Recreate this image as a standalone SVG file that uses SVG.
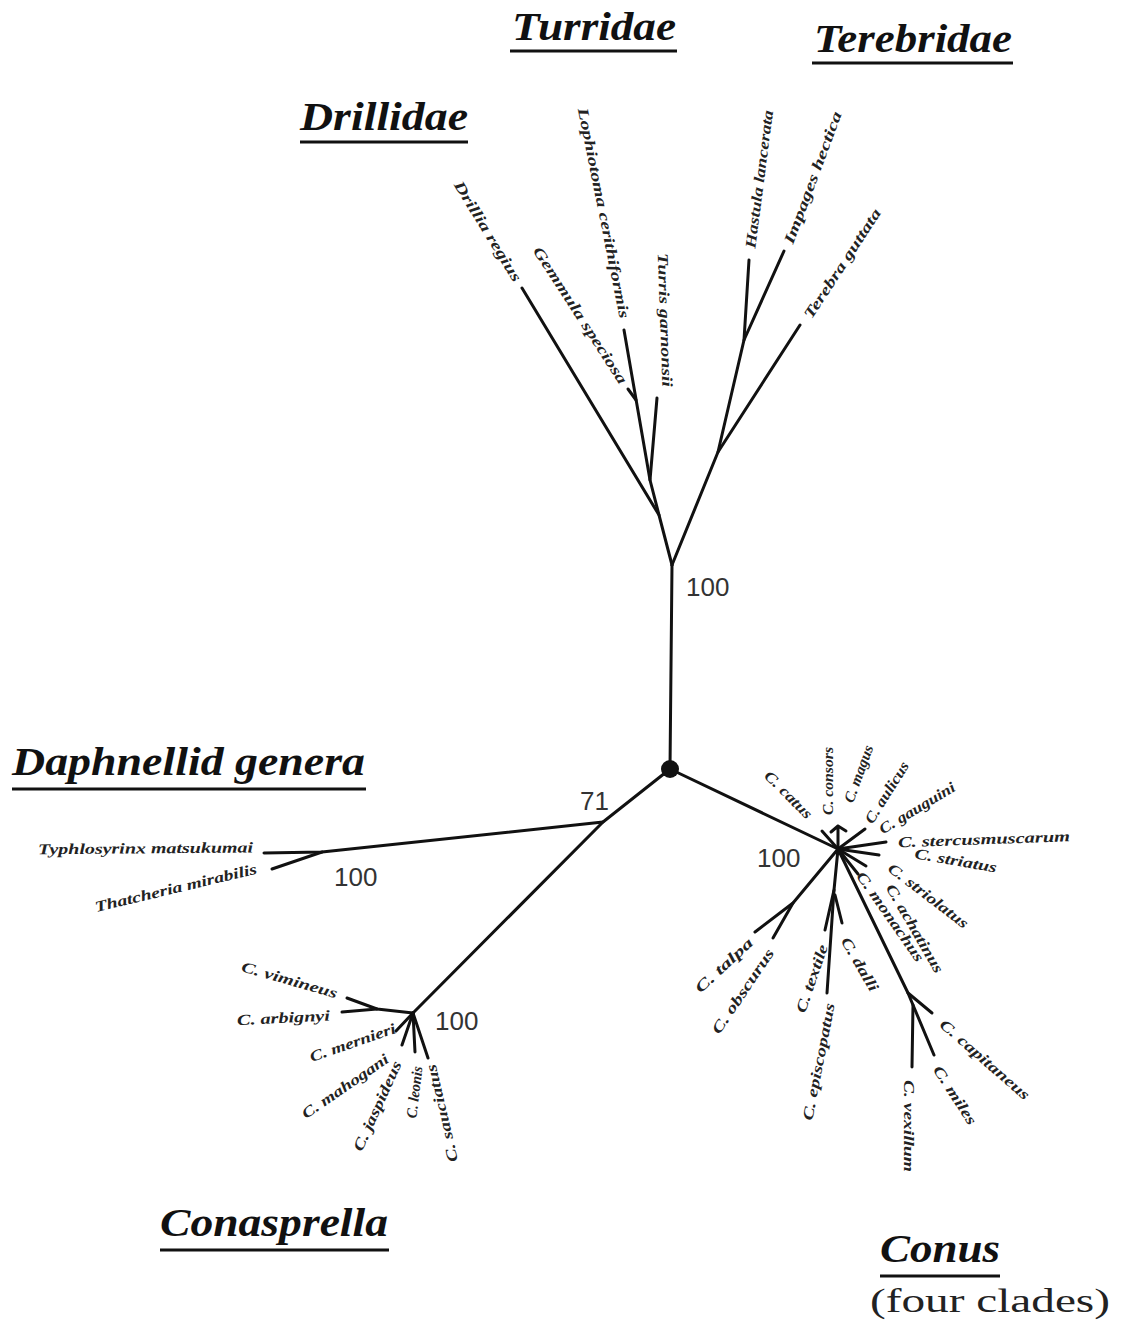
<svg xmlns="http://www.w3.org/2000/svg" width="1121" height="1327" viewBox="0 0 1121 1327">
<style>
.bg{fill:#ffffff}
.br{fill:none;stroke:#111;stroke-width:3;stroke-linecap:round;stroke-linejoin:round}
.sp{font-family:"Liberation Serif",serif;font-style:italic;font-weight:bold;font-size:15px;fill:#222}
.hd{font-family:"Liberation Serif",serif;font-style:italic;font-weight:bold;font-size:40px;fill:#111}
.ul{stroke:#111;stroke-width:3}
.bs{font-family:"Liberation Sans",Arial,sans-serif;font-size:26px;fill:#333}
.rg{font-family:"Liberation Serif",serif;font-size:34px;fill:#222}
</style>
<rect class="bg" x="0" y="0" width="1121" height="1327"/>
<g id="connectors">
<path class="br" d="M670,769 L672,565"/>
<path class="br" d="M672,565 L659,515 L522,288"/>
<path class="br" d="M659,515 L650,480 L624,330"/>
<path class="br" d="M636,400 L628,389"/>
<path class="br" d="M650,480 L657,398"/>
<path class="br" d="M672,565 L718,452 L800,325"/>
<path class="br" d="M718,452 L744,340 L749,260"/>
<path class="br" d="M744,340 L784,251"/>
<path class="br" d="M670,769 L603,822 L413,1013"/>
<path class="br" d="M603,822 L322,852 L264,853"/>
<path class="br" d="M322,852 L272,869"/>
<path class="br" d="M413,1013 L377,1009 L347,998"/>
<path class="br" d="M377,1009 L342,1012"/>
<path class="br" d="M413,1013 L396,1031"/>
<path class="br" d="M413,1013 L402,1045"/>
<path class="br" d="M413,1013 L415,1052"/>
<path class="br" d="M413,1013 L428,1058"/>
<path class="br" d="M670,769 L838,849"/>
<path class="br" d="M838,849 L822,831"/>
<path class="br" d="M838,849 L838,826 M831,832 L838,826 L846,831"/>
<path class="br" d="M838,849 L865,829"/>
<path class="br" d="M838,849 L886,842"/>
<path class="br" d="M838,849 L879,855"/>
<path class="br" d="M838,849 L866,866"/>
<path class="br" d="M838,849 L858,874"/>
<path class="br" d="M838,849 L793,903 L755,932"/>
<path class="br" d="M793,903 L773,938"/>
<path class="br" d="M838,849 L834,890 L825,930"/>
<path class="br" d="M834,890 L827,993"/>
<path class="br" d="M835,895 L842,923"/>
<path class="br" d="M838,849 L908,993 L932,1013"/>
<path class="br" d="M908,993 L913,1005 L934,1055"/>
<path class="br" d="M913,1005 L912,1067"/>
<circle cx="670" cy="769" r="9" fill="#111"/>
</g>
<g id="hdr-drillidae"><text class="hd" x="300" y="130" textLength="168" lengthAdjust="spacingAndGlyphs">Drillidae</text><line class="ul" x1="300" y1="142" x2="468" y2="142"/></g>
<g id="hdr-turridae"><text class="hd" x="512" y="40" textLength="164" lengthAdjust="spacingAndGlyphs">Turridae</text><line class="ul" x1="510" y1="51" x2="677" y2="51"/></g>
<g id="hdr-terebridae"><text class="hd" x="814" y="52" textLength="198" lengthAdjust="spacingAndGlyphs">Terebridae</text><line class="ul" x1="812" y1="63" x2="1013" y2="63"/></g>
<g id="hdr-daphnellid"><text class="hd" x="12" y="775" textLength="353" lengthAdjust="spacingAndGlyphs">Daphnellid genera</text><line class="ul" x1="12" y1="789" x2="366" y2="789"/></g>
<g id="hdr-conasprella"><text class="hd" x="160" y="1236" textLength="228" lengthAdjust="spacingAndGlyphs">Conasprella</text><line class="ul" x1="160" y1="1250" x2="389" y2="1250"/></g>
<g id="hdr-conus"><text class="hd" x="880" y="1262" textLength="120" lengthAdjust="spacingAndGlyphs">Conus</text><line class="ul" x1="880" y1="1276" x2="1000" y2="1276"/><text class="rg" x="870" y="1312" textLength="240" lengthAdjust="spacingAndGlyphs">(four clades)</text></g>
<g id="bs-top"><text class="bs" x="686" y="596">100</text></g>
<g id="bs-71"><text class="bs" x="580" y="810">71</text></g>
<g id="bs-daph"><text class="bs" x="334" y="886">100</text></g>
<g id="bs-conasprella"><text class="bs" x="435" y="1030">100</text></g>
<g id="bs-conus"><text class="bs" x="757" y="867">100</text></g>
<g id="drillia-regius"><text class="sp" dy=".35em" transform="translate(458,182) rotate(58.5)" textLength="115" lengthAdjust="spacingAndGlyphs">Drillia regius</text></g>
<g id="gemmula-speciosa"><text class="sp" dy=".35em" transform="translate(537,248) rotate(57)" textLength="160" lengthAdjust="spacingAndGlyphs">Gemmula speciosa</text></g>
<g id="lophiotoma-cerithiformis"><text class="sp" dy=".35em" transform="translate(583,108) rotate(78.7)" textLength="214" lengthAdjust="spacingAndGlyphs">Lophiotoma cerithiformis</text></g>
<g id="turris-garnonsii"><text class="sp" dy=".35em" transform="translate(663,253) rotate(88)" textLength="134" lengthAdjust="spacingAndGlyphs">Turris garnonsii</text></g>
<g id="hastula-lancerata"><text class="sp" dy=".35em" transform="translate(750,248) rotate(-82.6)" textLength="139" lengthAdjust="spacingAndGlyphs">Hastula lancerata</text></g>
<g id="impages-hectica"><text class="sp" dy=".35em" transform="translate(788,243) rotate(-69.5)" textLength="140" lengthAdjust="spacingAndGlyphs">Impages hectica</text></g>
<g id="terebra-guttata"><text class="sp" dy=".35em" transform="translate(807,317) rotate(-56.8)" textLength="128" lengthAdjust="spacingAndGlyphs">Terebra guttata</text></g>
<g id="typhlosyrinx"><text class="sp" dy=".35em" transform="translate(38,849) rotate(-0.5)" textLength="215" lengthAdjust="spacingAndGlyphs">Typhlosyrinx matsukumai</text></g>
<g id="thatcheria"><text class="sp" dy=".35em" transform="translate(95,907) rotate(-13.5)" textLength="166" lengthAdjust="spacingAndGlyphs">Thatcheria mirabilis</text></g>
<g id="c-vimineus"><text class="sp" dy=".35em" transform="translate(242,966) rotate(16)" textLength="99" lengthAdjust="spacingAndGlyphs">C. vimineus</text></g>
<g id="c-arbignyi"><text class="sp" dy=".35em" transform="translate(237,1020) rotate(-3)" textLength="93" lengthAdjust="spacingAndGlyphs">C. arbignyi</text></g>
<g id="c-mernieri"><text class="sp" dy=".35em" transform="translate(310,1057) rotate(-19)" textLength="90" lengthAdjust="spacingAndGlyphs">C. mernieri</text></g>
<g id="c-mahogani"><text class="sp" dy=".35em" transform="translate(303,1115) rotate(-34.6)" textLength="102" lengthAdjust="spacingAndGlyphs">C. mahogani</text></g>
<g id="c-jaspideus"><text class="sp" dy=".35em" transform="translate(357,1150) rotate(-65.6)" textLength="97" lengthAdjust="spacingAndGlyphs">C. jaspideus</text></g>
<g id="c-leonis"><text class="sp" dy=".35em" transform="translate(411,1118) rotate(-83)" textLength="52" lengthAdjust="spacingAndGlyphs">C. leonis</text></g>
<g id="c-sauciatus"><text class="sp" dy=".35em" transform="translate(453,1162) rotate(-103)" textLength="100" lengthAdjust="spacingAndGlyphs">C. sauciatus</text></g>
<g id="c-catus"><text class="sp" dy=".35em" transform="translate(767,773) rotate(45)" textLength="61" lengthAdjust="spacingAndGlyphs">C. catus</text></g>
<g id="c-consors"><text class="sp" dy=".35em" transform="translate(828,815) rotate(-90)" textLength="68" lengthAdjust="spacingAndGlyphs">C. consors</text></g>
<g id="c-magus"><text class="sp" dy=".35em" transform="translate(848,802) rotate(-70)" textLength="60" lengthAdjust="spacingAndGlyphs">C. magus</text></g>
<g id="c-aulicus"><text class="sp" dy=".35em" transform="translate(868,822) rotate(-58)" textLength="70" lengthAdjust="spacingAndGlyphs">C. aulicus</text></g>
<g id="c-gauguini"><text class="sp" dy=".35em" transform="translate(880,830) rotate(-31)" textLength="86" lengthAdjust="spacingAndGlyphs">C. gauguini</text></g>
<g id="c-stercusmuscarum"><text class="sp" dy=".35em" transform="translate(898,842) rotate(-2)" textLength="172" lengthAdjust="spacingAndGlyphs">C. stercusmuscarum</text></g>
<g id="c-striatus"><text class="sp" dy=".35em" transform="translate(915,853) rotate(10)" textLength="83" lengthAdjust="spacingAndGlyphs">C. striatus</text></g>
<g id="c-striolatus"><text class="sp" dy=".35em" transform="translate(890,866) rotate(37.5)" textLength="97" lengthAdjust="spacingAndGlyphs">C. striolatus</text></g>
<g id="c-achatinus"><text class="sp" dy=".35em" transform="translate(890,885) rotate(60)" textLength="100" lengthAdjust="spacingAndGlyphs">C. achatinus</text></g>
<g id="c-monachus"><text class="sp" dy=".35em" transform="translate(860,873) rotate(55)" textLength="106" lengthAdjust="spacingAndGlyphs">C. monachus</text></g>
<g id="c-dalli"><text class="sp" dy=".35em" transform="translate(845,938) rotate(60)" textLength="60" lengthAdjust="spacingAndGlyphs">C. dalli</text></g>
<g id="c-talpa"><text class="sp" dy=".35em" transform="translate(697,990) rotate(-43)" textLength="73" lengthAdjust="spacingAndGlyphs">C. talpa</text></g>
<g id="c-obscurus"><text class="sp" dy=".35em" transform="translate(715,1032) rotate(-56)" textLength="99" lengthAdjust="spacingAndGlyphs">C. obscurus</text></g>
<g id="c-textile"><text class="sp" dy=".35em" transform="translate(800,1012) rotate(-71)" textLength="71" lengthAdjust="spacingAndGlyphs">C. textile</text></g>
<g id="c-episcopatus"><text class="sp" dy=".35em" transform="translate(807,1120) rotate(-79)" textLength="119" lengthAdjust="spacingAndGlyphs">C. episcopatus</text></g>
<g id="c-capitaneus"><text class="sp" dy=".35em" transform="translate(942,1022) rotate(41)" textLength="114" lengthAdjust="spacingAndGlyphs">C. capitaneus</text></g>
<g id="c-miles"><text class="sp" dy=".35em" transform="translate(937,1067) rotate(57)" textLength="67" lengthAdjust="spacingAndGlyphs">C. miles</text></g>
<g id="c-vexillum"><text class="sp" dy=".35em" transform="translate(909,1080) rotate(90)" textLength="92" lengthAdjust="spacingAndGlyphs">C. vexillum</text></g>
</svg>
